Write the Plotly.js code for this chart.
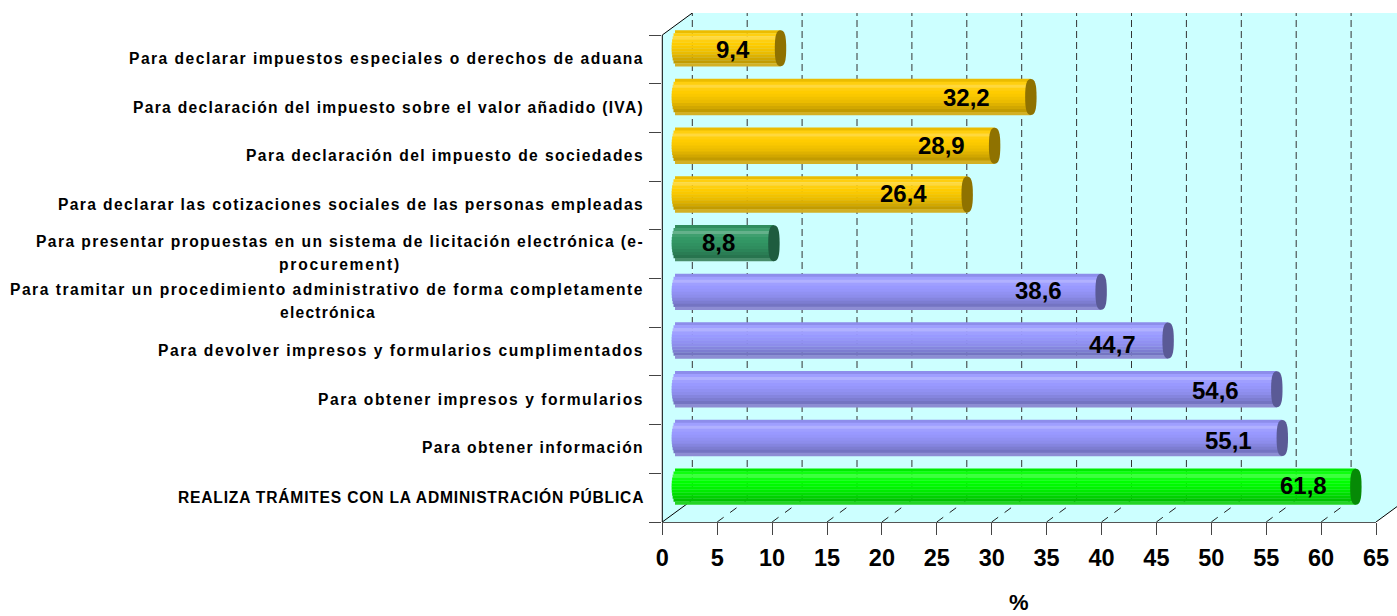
<!DOCTYPE html>
<html><head><meta charset="utf-8">
<script src="https://cdn.plot.ly/plotly-3.0.1.min.js"></script>
<style>html,body{margin:0;padding:0;background:#fff}#c{width:1397px;height:616px}</style>
</head><body><div id="c"></div>
<script>
// bottom-to-top order
const categories = [
 "REALIZA TRÁMITES CON LA ADMINISTRACIÓN PÚBLICA",
 "Para obtener información",
 "Para obtener impresos y formularios",
 "Para devolver impresos y formularios cumplimentados",
 "Para tramitar un procedimiento administrativo de forma completamente<br>electrónica",
 "Para presentar propuestas en un sistema de licitación electrónica (e-<br>procurement)",
 "Para declarar las cotizaciones sociales de las personas empleadas",
 "Para declaración del impuesto de sociedades",
 "Para declaración del impuesto sobre el valor añadido (IVA)",
 "Para declarar impuestos especiales o derechos de aduana"
];
const values = [61.8,55.1,54.6,44.7,38.6,8.8,26.4,28.9,32.2,9.4];
const valueText = ["61,8","55,1","54,6","44,7","38,6","8,8","26,4","28,9","32,2","9,4"];
const barColors = ["#00FF00","#9999FF","#9999FF","#9999FF","#9999FF","#339966","#FFCC00","#FFCC00","#FFCC00","#FFCC00"];
const capColors = ["#068A06","#5A5A96","#5A5A96","#5A5A96","#5A5A96","#1E5C3F","#8F7200","#8F7200","#8F7200","#8F7200"];
const xTicks = [0,5,10,15,20,25,30,35,40,45,50,55,60,65];

// layout geometry
const W=1397,H=616, L=662.3,R=1376, TOP=13, BOT=522;
const pxX=(R-L)/65, pxY=48.7;
const depthX=30/pxX, depthY=22/pxY;
const halfBar=0.37, capW=0.52;
const yMin=-0.5, yMax=9.5+depthY;
const labelGap=[27,28,36,30,37,37,38,28,39,29];
const labelDy=[-1,3,1,4,-1,-1,-1,0,0,1];
// rendered width of each label line in px, bottom-to-top
const lineWidths=[[468],[222],[326],[486],[634,96],[608,122],[586],[398],[511],[515]];
const secondLineCentre={4:328,5:340};
const shade=[[.92,0],[1,.06],[1,.24],[1,.06],[1,0],[.98,0],[.95,0],[.92,0],[.87,0],[.82,0],[.76,0],[.80,.14]];
const font='Liberation Sans, Arial, sans-serif';
const labelSize=15.6;

function hex(c){return [1,3,5].map(i=>parseInt(c.substr(i,2),16));}
function tone(c,f,w){const a=hex(c).map(v=>Math.round((v*f)*(1-w)+255*w));return `rgb(${a.join(',')})`;}
const px=v=>(L+v*pxX)/W; // value on the front plane to paper x
const wallColor="#CCFFFF";
const ctx=document.createElement('canvas').getContext('2d');
ctx.font=`bold ${labelSize}px "Liberation Sans"`;
function spaced(t,target){const s=(target-ctx.measureText(t).width)/t.length;return `<span style="letter-spacing:${s.toFixed(3)}px">${t}</span>`;}

const shapes=[];
// walls
const wall=(pts)=>({type:'path',xref:'paper',yref:'y',layer:'below',fillcolor:wallColor,line:{width:0},
  path:pts.map((p,i)=>(i?'L':'M')+px(p[0])+','+p[1]).join(' ')+' Z'});
const xBack=(W-L)/pxX; 
shapes.push(wall([[0,yMin],[depthX,yMin+depthY],[depthX,yMax],[0,9.5]]));
shapes.push(wall([[depthX,yMin+depthY],[xBack,yMin+depthY],[xBack,yMax],[depthX,yMax]]));
shapes.push(wall([[0,yMin],[65,yMin],[xBack,yMin+(xBack-65)*depthY/depthX],[xBack,yMin+depthY],[depthX,yMin+depthY]]));
const seg=(x0,y0,x1,y1,color,dash)=>({type:'line',xref:'paper',yref:'y',layer:'below',x0:px(x0),x1:px(x1),y0,y1,line:{color,width:1,dash:dash||'solid'}});
xTicks.forEach(t=>{
  if(t<65) shapes.push(seg(t+depthX,yMin+depthY,t+depthX,yMax,'#333333','7px,4px'));
  if(t>0&&t<65) shapes.push(seg(t,yMin,t+depthX,yMin+depthY,'#222222','8px,8px'));
});
shapes.push(seg(0,yMin,depthX,yMin+depthY,'#000000'));
shapes.push(seg(0,9.5,depthX,yMax,'#000000'));
shapes.push(seg(0,yMin,0,9.5,'#000000'));
shapes.push(seg(65,yMin,xBack,yMin+(xBack-65)*depthY/depthX,'#000000'));
// end caps: a squarish ellipse at the end of each bar
values.forEach((v,i)=>{
  const a=capW,b=halfBar,k=.72;
  shapes.push({type:'path',xref:'x2',yref:'y2',layer:'above',fillcolor:capColors[i],line:{width:0},
   path:`M${v-a},${i} C${v-a},${i+b*k} ${v-a*k},${i+b} ${v},${i+b} C${v+a*k},${i+b} ${v+a},${i+b*k} ${v+a},${i} C${v+a},${i-b*k} ${v+a*k},${i-b} ${v},${i-b} C${v-a*k},${i-b} ${v-a},${i-b*k} ${v-a},${i} Z`});
});

// cylinder body, built from horizontal strips of the same bar values
const n=shade.length, h=2*halfBar/n;
const traces=shade.map((s,k)=>{
  const mid=(k+.5)/n*2-1;           // -1 top ... 1 bottom
  const round=capW*Math.sqrt(Math.max(0,1-mid*mid));
  return {type:'bar',orientation:'h',xaxis:'x2',yaxis:'y2',
    y:values.map((_,i)=>i),x:values.map(v=>v+round),base:values.map(()=>-round),
    width:h*1.12,offset:halfBar-(k+1)*h-h*.06,
    marker:{color:barColors.map(c=>tone(c,s[0],s[1])),line:{width:0}},
    hoverinfo:'skip',showlegend:false};
});

// annotations
const annotations=[];
categories.forEach((c,i)=>{
  const lines=c.split('<br>');
  lines.forEach((t,j)=>{
    const second=j==1;
    annotations.push({xref:'paper',yref:'y',x:(second?secondLineCentre[i]:646)/W,y:i,
      yshift:lines.length>1?[13,-10][j]:1,
      xanchor:second?'center':'right',yanchor:'middle',showarrow:false,text:spaced(t,lineWidths[i][j]),
      font:{family:font,size:labelSize,color:'#000',weight:700}});
  });
});
values.forEach((v,i)=>annotations.push({xref:'x2',yref:'y2',x:v,y:i,xshift:-labelGap[i],yshift:-labelDy[i],
  xanchor:'right',yanchor:'middle',showarrow:false,text:valueText[i],
  font:{family:font,size:24,color:'#000',weight:700}}));
// x axis title
annotations.push({xref:'paper',yref:'paper',x:1019/W,y:1-602/H,xanchor:'center',yanchor:'middle',showarrow:false,text:'%',
  font:{family:font,size:22,color:'#000',weight:700}});

const layout={
  width:W,height:H,margin:{l:0,r:0,t:0,b:0},paper_bgcolor:'#fff',plot_bgcolor:'rgba(0,0,0,0)',
  barmode:'overlay',showlegend:false,shapes,annotations,
  xaxis:{domain:[L/W,R/W],range:[0,65],tickvals:xTicks,showgrid:false,zeroline:false,showline:true,linecolor:'#555',linewidth:1,
    ticks:'outside',ticklen:12,tickcolor:'#444',ticklabelstandoff:3,tickfont:{family:font,size:23.5,color:'#000',weight:700}},
  yaxis:{domain:[1-BOT/H,1-TOP/H],range:[yMin,yMax],tickvals:[-.5,.5,1.5,2.5,3.5,4.5,5.5,6.5,7.5,8.5,9.5],showticklabels:false,
    showgrid:false,zeroline:false,showline:false,ticks:'outside',ticklen:12,tickcolor:'#444'},
  xaxis2:{overlaying:'x',range:[-15/pxX,65-15/pxX],visible:false,anchor:'y2'},
  yaxis2:{overlaying:'y',range:[yMin-11/pxY,yMax-11/pxY],visible:false,anchor:'x2'}
};
Plotly.newPlot('c',traces,layout,{displayModeBar:false,staticPlot:true});
</script></body></html>
